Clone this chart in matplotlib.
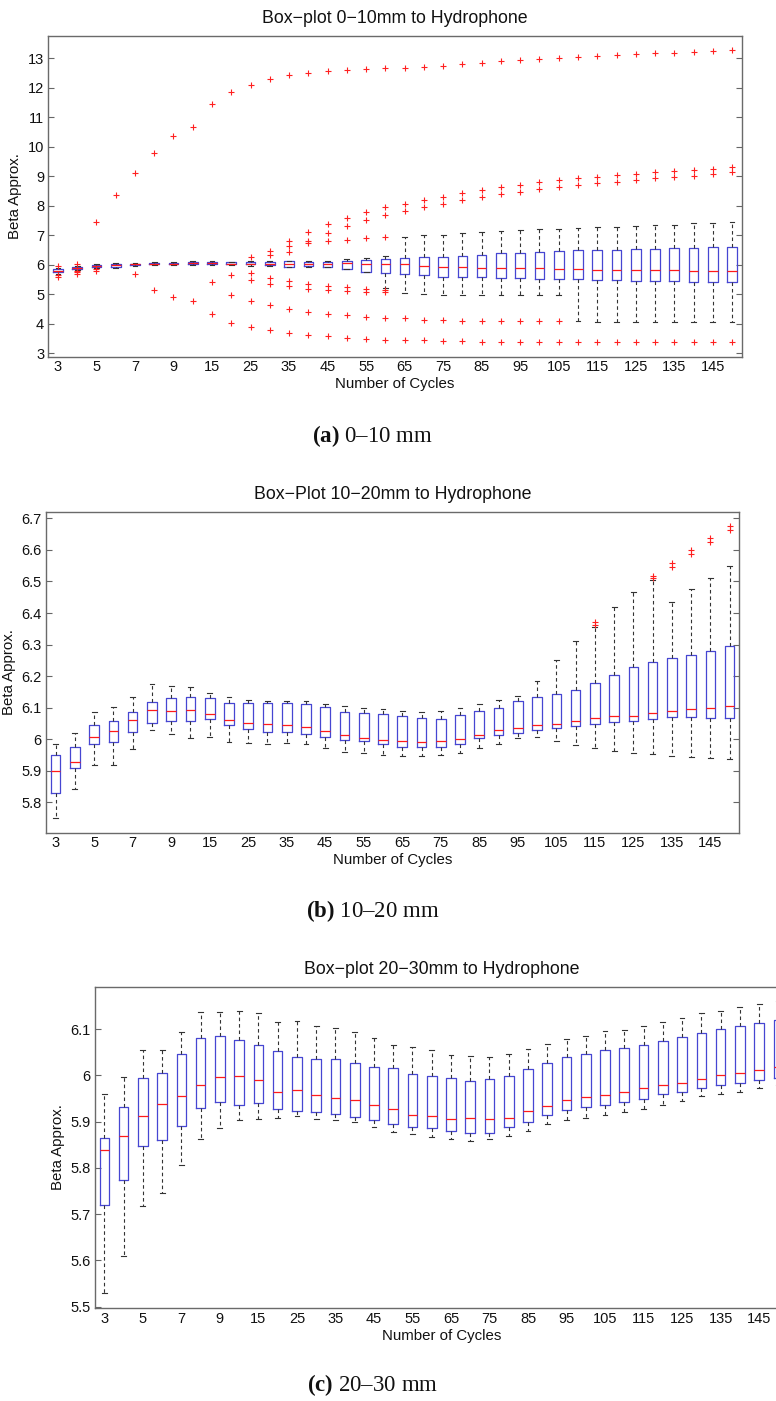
import matplotlib
matplotlib.use("Agg")
import matplotlib.pyplot as plt
from matplotlib.ticker import FixedLocator, FixedFormatter

plt.rcParams['font.family'] = ['Liberation Sans', 'DejaVu Sans']
plt.rcParams['mathtext.fontset'] = 'custom'
plt.rcParams['mathtext.rm'] = 'Liberation Serif'
plt.rcParams['mathtext.bf'] = 'Liberation Serif:bold'

# ---------------- data ----------------
cycles = [3, 4, 5, 6, 7, 8, 9, 10, 15, 20, 25, 30, 35, 40, 45, 50, 55, 60, 65, 70,
          75, 80, 85, 90, 95, 100, 105, 110, 115, 120, 125, 130, 135, 140, 145, 150]

# Panel (a) 0-10 mm
a_q1 = [5.75, 5.86, 5.94, 5.94, 5.99, 6.02, 6.02, 6.01, 6.03, 6.02, 6.01, 6.00, 5.94, 5.97, 5.94, 5.86,
        5.77, 5.73, 5.68, 5.64, 5.60, 5.58, 5.58, 5.54, 5.54, 5.52, 5.51, 5.51, 5.48, 5.47, 5.46, 5.46,
        5.44, 5.43, 5.43, 5.43]
a_med = [5.80, 5.89, 5.96, 5.98, 6.01, 6.04, 6.04, 6.05, 6.06, 6.04, 6.04, 6.03, 6.03, 6.03, 6.03, 6.05,
         6.03, 6.03, 6.02, 5.96, 5.94, 5.92, 5.89, 5.89, 5.88, 5.88, 5.86, 5.86, 5.82, 5.82, 5.82, 5.82,
         5.82, 5.80, 5.80, 5.80]
a_q3 = [5.85, 5.92, 5.98, 6.01, 6.04, 6.07, 6.07, 6.09, 6.09, 6.08, 6.09, 6.09, 6.11, 6.09, 6.08, 6.14,
        6.16, 6.19, 6.22, 6.25, 6.26, 6.31, 6.33, 6.39, 6.40, 6.42, 6.46, 6.49, 6.49, 6.49, 6.53, 6.55,
        6.56, 6.56, 6.59, 6.61]
a_wlo = [5.70, 5.83, 5.90, 5.88, 5.96, 5.99, 5.99, 5.99, 6.00, 5.99, 5.97, 5.96, 5.91, 5.94, 5.91, 5.85,
         5.75, 5.22, 5.03, 5.01, 4.99, 4.99, 4.99, 4.99, 4.99, 4.99, 4.99, 4.10, 4.07, 4.05, 4.05, 4.05,
         4.05, 4.05, 4.05, 4.05]
a_whi = [5.90, 5.95, 6.04, 6.07, 6.07, 6.09, 6.09, 6.11, 6.12, 6.10, 6.12, 6.12, 6.14, 6.12, 6.11, 6.20,
         6.22, 6.28, 6.95, 7.00, 7.02, 7.06, 7.12, 7.16, 7.18, 7.20, 7.22, 7.26, 7.28, 7.29, 7.33, 7.35,
         7.36, 7.41, 7.43, 7.44]
a_fliers = [
    [5.97, 5.65, 5.57],
    [6.02, 5.79, 5.74, 5.69],
    [7.45, 5.86, 5.80],
    [8.36],
    [9.10, 5.68],
    [9.78, 5.13],
    [10.38, 4.91],
    [10.68, 4.76],
    [11.45, 5.40, 4.34],
    [11.85, 5.64, 4.99, 4.04],
    [12.10, 6.26, 5.73, 5.47, 4.78, 3.88],
    [12.29, 6.45, 6.34, 5.55, 5.36, 4.62, 3.77],
    [12.42, 6.79, 6.62, 6.42, 5.44, 5.28, 4.49, 3.69],
    [12.52, 7.12, 6.80, 6.74, 5.33, 5.19, 4.41, 3.62],
    [12.56, 7.37, 7.08, 6.81, 5.28, 5.14, 4.34, 3.58],
    [12.60, 7.59, 7.31, 6.85, 5.25, 5.12, 4.30, 3.52],
    [12.64, 7.79, 7.51, 6.90, 5.17, 5.07, 4.24, 3.49],
    [12.67, 7.95, 7.68, 6.93, 5.15, 5.07, 4.20, 3.46],
    [12.68, 8.07, 7.81, 4.18, 3.45],
    [12.72, 8.19, 7.95, 4.14, 3.43],
    [12.75, 8.31, 8.07, 4.11, 3.41],
    [12.80, 8.42, 8.19, 4.10, 3.40],
    [12.84, 8.53, 8.30, 4.10, 3.39],
    [12.90, 8.63, 8.40, 4.10, 3.38],
    [12.94, 8.72, 8.48, 4.09, 3.38],
    [12.98, 8.80, 8.56, 4.09, 3.38],
    [13.00, 8.87, 8.63, 4.09, 3.38],
    [13.04, 8.94, 8.70, 3.38],
    [13.08, 8.99, 8.77, 3.38],
    [13.11, 9.04, 8.81, 3.38],
    [13.15, 9.09, 8.86, 3.38],
    [13.18, 9.14, 8.93, 3.38],
    [13.20, 9.18, 8.98, 3.38],
    [13.22, 9.21, 9.02, 3.38],
    [13.25, 9.26, 9.08, 3.38],
    [13.29, 9.31, 9.13, 3.37],
]

# Panel (b) 10-20 mm
b_q1 = [5.831, 5.908, 5.984, 5.990, 6.024, 6.052, 6.059, 6.059, 6.063, 6.045, 6.031, 6.022, 6.024,
        6.018, 6.006, 5.998, 5.993, 5.985, 5.977, 5.974, 5.977, 5.986, 6.004, 6.013, 6.021, 6.028,
        6.035, 6.041, 6.047, 6.054, 6.059, 6.065, 6.069, 6.069, 6.066, 6.066]
b_med = [5.900, 5.929, 6.006, 6.026, 6.060, 6.092, 6.089, 6.092, 6.079, 6.061, 6.052, 6.047, 6.046,
         6.038, 6.025, 6.013, 6.005, 5.998, 5.996, 5.991, 5.996, 6.000, 6.013, 6.028, 6.035, 6.044,
         6.047, 6.058, 6.066, 6.073, 6.075, 6.084, 6.091, 6.095, 6.100, 6.104]
b_q3 = [5.950, 5.974, 6.046, 6.057, 6.085, 6.117, 6.130, 6.133, 6.130, 6.116, 6.116, 6.114, 6.114,
        6.111, 6.101, 6.085, 6.082, 6.079, 6.073, 6.067, 6.065, 6.076, 6.089, 6.100, 6.120, 6.135,
        6.143, 6.155, 6.177, 6.204, 6.228, 6.244, 6.258, 6.268, 6.281, 6.294]
b_wlo = [5.750, 5.841, 5.917, 5.920, 5.968, 6.029, 6.018, 6.005, 6.008, 5.991, 5.989, 5.984, 5.987,
         5.984, 5.971, 5.960, 5.955, 5.950, 5.948, 5.948, 5.950, 5.958, 5.973, 5.984, 6.004, 6.006,
         5.995, 5.981, 5.971, 5.963, 5.956, 5.952, 5.948, 5.943, 5.940, 5.937]
b_whi = [5.984, 6.019, 6.087, 6.101, 6.135, 6.175, 6.170, 6.165, 6.146, 6.133, 6.124, 6.122, 6.122,
         6.120, 6.113, 6.106, 6.099, 6.097, 6.091, 6.087, 6.089, 6.100, 6.113, 6.125, 6.137, 6.186,
         6.251, 6.310, 6.356, 6.419, 6.466, 6.505, 6.434, 6.475, 6.510, 6.550]
b_fliers = [[] for _ in range(28)] + [
    [6.370, 6.361],
    [],
    [],
    [6.518, 6.510],
    [6.560, 6.546],
    [6.600, 6.587],
    [6.637, 6.624],
    [6.677, 6.663],
]

# Panel (c) 20-30 mm
c_q1 = [5.719, 5.775, 5.847, 5.860, 5.891, 5.929, 5.943, 5.937, 5.940, 5.927, 5.923, 5.920, 5.917,
        5.910, 5.903, 5.895, 5.889, 5.886, 5.881, 5.876, 5.876, 5.888, 5.899, 5.914, 5.926, 5.931,
        5.937, 5.943, 5.950, 5.959, 5.965, 5.972, 5.979, 5.984, 5.990, 5.994]
c_med = [5.839, 5.870, 5.912, 5.938, 5.955, 5.979, 5.997, 5.999, 5.990, 5.964, 5.969, 5.957, 5.952,
         5.946, 5.937, 5.927, 5.914, 5.912, 5.905, 5.907, 5.905, 5.907, 5.923, 5.935, 5.946, 5.953,
         5.957, 5.965, 5.972, 5.979, 5.983, 5.992, 6.000, 6.005, 6.012, 6.018]
c_q3 = [5.864, 5.931, 5.994, 6.005, 6.047, 6.080, 6.086, 6.077, 6.067, 6.054, 6.040, 6.036, 6.036,
        6.028, 6.018, 6.016, 6.003, 5.999, 5.995, 5.989, 5.992, 5.999, 6.013, 6.026, 6.039, 6.046,
        6.055, 6.060, 6.067, 6.075, 6.083, 6.091, 6.100, 6.106, 6.113, 6.119]
c_wlo = [5.530, 5.609, 5.718, 5.745, 5.806, 5.862, 5.886, 5.904, 5.905, 5.907, 5.912, 5.905, 5.903,
         5.899, 5.889, 5.878, 5.873, 5.868, 5.863, 5.858, 5.862, 5.869, 5.881, 5.894, 5.903, 5.909,
         5.915, 5.920, 5.927, 5.937, 5.945, 5.955, 5.960, 5.965, 5.973, 5.979]
c_whi = [5.959, 5.997, 6.055, 6.055, 6.093, 6.137, 6.137, 6.140, 6.136, 6.115, 6.117, 6.108, 6.102,
         6.094, 6.082, 6.065, 6.061, 6.055, 6.044, 6.042, 6.039, 6.046, 6.057, 6.068, 6.078, 6.086,
         6.096, 6.099, 6.108, 6.116, 6.125, 6.135, 6.140, 6.148, 6.154, 6.160]
c_fliers = [[] for _ in range(36)]

titles = ["Box\u2212plot 0\u221210mm to Hydrophone",
          "Box\u2212Plot 10\u221220mm to Hydrophone",
          "Box\u2212plot 20\u221230mm to Hydrophone"]
captions = ["$\\mathbf{(a)}$ 0\u201310 mm", "$\\mathbf{(b)}$ 10\u201320 mm", "$\\mathbf{(c)}$ 20\u201330 mm"]
a_yticks = [3, 4, 5, 6, 7, 8, 9, 10, 11, 12, 13]
b_yticks = [5.8, 5.9, 6.0, 6.1, 6.2, 6.3, 6.4, 6.5, 6.6, 6.7]
c_yticks = [5.5, 5.6, 5.7, 5.8, 5.9, 6.0, 6.1]

# ---------------- drawing ----------------
W, H = 776, 1401
fig = plt.figure(figsize=(W / 100, H / 100), dpi=100)

BOX = '#4646d2'
SPINE = '#6a6a6a'


def panel(px_left, px_top, px_right, px_bottom, title, q1, med, q3, wlo, whi, fl, ylim, yticks):
    ax = fig.add_axes([px_left / W, 1 - px_bottom / H, (px_right - px_left) / W,
                       (px_bottom - px_top) / H])
    stats = []
    for i in range(len(cycles)):
        stats.append(dict(q1=q1[i], med=med[i], q3=q3[i], whislo=wlo[i], whishi=whi[i],
                          fliers=fl[i], label=str(cycles[i])))
    pos = list(range(1, len(cycles) + 1))
    ax.bxp(stats, positions=pos, widths=0.5, capwidths=0.25, showfliers=True,
           boxprops=dict(color=BOX, linewidth=0.9),
           medianprops=dict(color='#ff1a1a', linewidth=0.9),
           whiskerprops=dict(color='#333333', linewidth=0.8, linestyle=(0, (3.2, 2.6))),
           capprops=dict(color='#333333', linewidth=0.8),
           flierprops=dict(marker='+', markeredgecolor='#ff2020', markersize=5,
                           markeredgewidth=0.8, linestyle='none'))
    ax.set_xlim(0.5, len(cycles) + 0.5)
    ax.set_ylim(*ylim)
    ax.xaxis.set_major_locator(FixedLocator(pos[::2]))
    ax.xaxis.set_major_formatter(FixedFormatter([str(c) for c in cycles[::2]]))
    ax.yaxis.set_major_locator(FixedLocator(yticks))
    ax.yaxis.set_major_formatter(FixedFormatter(['%g' % round(t, 2) for t in yticks]))
    ax.tick_params(axis='x', length=0, pad=2.5, labelsize=10.5, colors='#111111')
    ax.tick_params(axis='y', direction='in', length=4, width=0.8, color='#666666',
                   right=True, left=True, labelsize=10.5, pad=3, labelcolor='#111111')
    for s in ax.spines.values():
        s.set_color(SPINE)
        s.set_linewidth(1.0)
    ax.set_title(title, fontsize=12.8, pad=9, color='#111111')
    ax.set_xlabel('Number of Cycles', fontsize=10.8, labelpad=2, color='#111111')
    ax.set_ylabel('Beta Approx.', fontsize=10.8, labelpad=4, color='#111111')
    return ax


panel(48.3, 35.7, 741.7, 356.7, titles[0], a_q1, a_med, a_q3, a_wlo, a_whi, a_fliers,
      (2.88, 13.77), a_yticks)
panel(46.0, 511.7, 739.3, 832.7, titles[1], b_q1, b_med, b_q3, b_wlo, b_whi, b_fliers,
      (5.704, 6.721), b_yticks)
panel(94.7, 986.7, 788.0, 1308.3, titles[2], c_q1, c_med, c_q3, c_wlo, c_whi, c_fliers,
      (5.4965, 6.192), c_yticks)

for cap, yc in zip(captions, [436, 911, 1385]):
    fig.text(373 / W, 1 - yc / H, cap, ha='center', va='center', fontsize=16.5,
             family='Liberation Serif', color='#111111')

fig.savefig('out.png', dpi=100)
